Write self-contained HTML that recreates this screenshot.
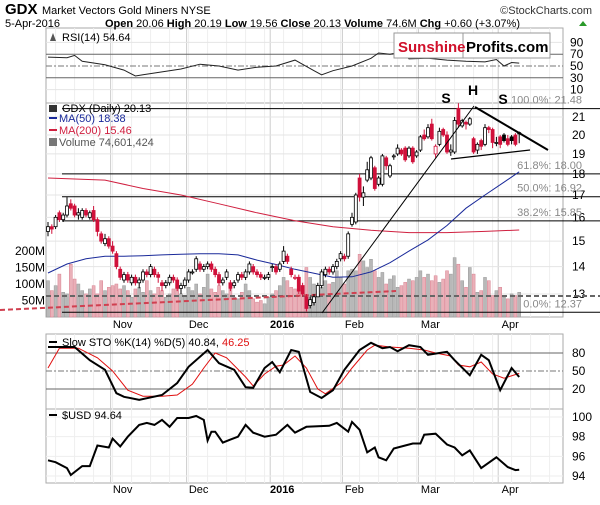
<!DOCTYPE html>
<html><head><meta charset="utf-8"><style>
body{margin:0;background:#fff;width:600px;height:500px;overflow:hidden;font-family:"Liberation Sans",sans-serif}
svg text{font-family:"Liberation Sans",sans-serif}
</style></head><body>
<svg id="c" width="600" height="500" xmlns="http://www.w3.org/2000/svg">
<g id="grid"></g>
<g id="hdr">
<text x="5" y="14" font-size="15" font-weight="bold">GDX</text>
<text x="42" y="14" font-size="11">Market Vectors Gold Miners  NYSE</text>
<text x="592" y="14" font-size="11" text-anchor="end" fill="#333">©StockCharts.com</text>
<text x="5" y="27" font-size="11">5-Apr-2016</text>
<text x="105" y="27" font-size="11"><tspan font-weight="bold">Open</tspan> 20.06 <tspan font-weight="bold">High</tspan> 20.19 <tspan font-weight="bold">Low</tspan> 19.56 <tspan font-weight="bold">Close</tspan> 20.13 <tspan font-weight="bold">Volume</tspan> 74.6M <tspan font-weight="bold">Chg</tspan> +0.60 (+3.07%)</text>
<polygon points="579,26 583,21 587,26" fill="#2a9a2a"/>
</g>
<g id="plot"></g>
</svg>
<script>
// ---------- data ----------
const opens=[15.4,15.6,15.6,16.2,15.9,16.1,16.6,16.5,16.1,16.0,16.3,16.0,16.3,15.9,15.3,14.9,15.1,
14.8,14.5,13.9,13.5,13.7,13.4,13.6,13.4,13.5,13.8,13.7,13.9,13.7,13.4,13.3,13.4,13.6,13.5,13.2,13.3,
13.5,13.8,13.9,14.1,13.9,14.0,14.1,13.9,13.7,13.4,13.6,13.4,13.3,13.5,13.7,13.6,13.8,14.0,13.8,13.7,13.6,13.6,
14.0,14.0,13.9,14.2,14.4,13.9,13.6,13.6,13.3,12.9,12.6,12.7,12.9,13.3,13.7,13.9,13.8,14.0,14.3,
14.4,14.4,15.7,15.8,17.8,16.9,17.7,17.8,18.3,17.5,17.5,18.8,17.9,18.9,19.0,19.2,19.3,18.9,19.3,18.9,
19.2,20.0,19.9,20.6,19.0,19.5,20.3,20.0,19.1,19.1,21.5,20.5,20.7,20.6,19.8,19.2,19.7,19.5,20.4,20.3,19.6,
19.9,20.0,19.8,19.9,20.0,20.06];
const closes=[15.6,15.5,16.0,15.9,16.1,16.5,16.4,16.1,16.2,16.3,16.1,16.2,15.9,15.4,15.0,15.1,14.8,
14.6,14.0,13.6,13.7,13.5,13.6,13.4,13.5,13.8,13.7,14.0,13.7,13.6,13.3,13.4,13.6,13.5,13.2,13.3,13.5,
13.8,13.8,14.3,13.9,14.0,14.1,13.9,13.7,13.4,13.5,13.8,13.2,13.4,13.7,13.6,13.8,14.1,13.8,13.7,13.6,13.6,13.7,
14.0,13.8,14.1,14.6,14.2,13.7,13.6,13.1,13.0,12.5,12.8,12.9,13.3,13.8,13.9,13.8,14.0,14.2,14.5,
14.3,15.3,16.0,17.0,16.9,17.1,18.2,18.8,17.3,17.8,18.9,18.4,18.4,18.9,19.3,19.0,18.7,19.3,18.6,19.1,
19.9,19.8,20.4,19.8,19.4,20.2,20.0,19.1,19.2,20.8,20.6,20.8,20.6,20.9,19.1,19.5,19.4,20.4,20.3,19.6,19.6,
19.5,19.7,19.5,19.7,19.5,20.13];
const highs=[15.8,15.7,16.1,16.3,16.2,16.9,16.8,16.6,16.4,16.4,16.4,16.3,16.5,16.0,15.4,15.3,15.2,
15.0,14.6,14.0,13.8,13.8,13.7,13.7,13.6,13.9,13.9,14.1,14.0,13.8,13.5,13.5,13.7,13.7,13.6,13.4,13.6,
13.9,13.9,14.4,14.2,14.1,14.2,14.2,14.0,13.8,13.6,13.9,13.5,13.5,13.8,13.8,13.9,14.2,14.1,13.9,13.8,13.7,13.8,
14.1,14.1,14.2,14.8,14.5,14.0,13.7,13.7,13.4,13.0,12.9,13.0,13.4,13.9,14.0,14.0,14.1,14.3,14.6,
14.5,15.4,16.2,17.1,18.0,17.4,18.6,18.9,18.4,17.9,19.0,18.9,18.5,19.0,19.5,19.3,19.4,19.4,19.4,19.2,
20.0,20.3,20.6,20.9,19.5,20.4,20.4,20.2,19.5,21.0,21.8,20.9,20.8,21.0,19.9,19.6,19.8,20.6,20.5,20.4,19.9,
20.0,20.1,20.0,20.0,20.1,20.19];
const lows=[15.2,15.3,15.5,15.8,15.8,16.0,16.3,16.0,15.9,15.9,16.0,15.9,15.8,15.2,14.9,14.8,14.7,
14.5,13.9,13.5,13.4,13.4,13.3,13.3,13.2,13.4,13.6,13.6,13.6,13.4,13.1,13.2,13.3,13.4,13.1,13.0,13.2,
13.4,13.7,13.8,13.8,13.8,13.9,13.8,13.6,13.3,13.3,13.5,13.1,13.2,13.4,13.5,13.5,13.7,13.7,13.6,13.5,13.5,13.5,
13.8,13.7,13.8,14.1,14.1,13.6,13.5,13.0,12.9,12.4,12.5,12.6,12.9,13.2,13.6,13.7,13.7,13.9,14.2,
14.2,14.3,15.6,15.7,16.7,16.5,17.6,17.7,17.2,17.4,17.4,18.2,17.8,18.7,18.9,18.9,18.6,18.8,18.5,18.8,
19.1,19.7,19.8,19.7,18.8,19.4,19.9,19.0,18.9,19.0,20.4,20.4,20.3,20.5,19.0,19.0,19.2,19.4,20.1,19.3,19.4,
19.3,19.6,19.4,19.5,19.4,19.56];
const volumes=[110,80,95,130,75,70,160,115,100,80,70,85,95,70,110,80,90,
95,100,85,95,80,60,85,90,75,110,80,70,90,80,60,70,85,100,70,65,
90,80,100,70,90,130,85,75,95,80,70,85,60,55,75,100,80,55,45,50,40,60,
70,80,95,120,110,90,85,90,75,150,120,100,95,90,110,100,105,140,120,
100,140,145,140,190,170,150,175,140,120,135,100,115,125,90,95,105,115,110,120,
140,120,130,110,125,105,115,140,130,180,160,110,90,150,130,75,80,120,110,65,80,
90,60,55,70,65,75];
const ma50Idx=[0,5,10,15,20,25,30,35,40,45,50,55,60,65,70,75,80,85,90,95,100,105,110,115,120,124];
const ma50Val=[13.76,14.1,14.3,14.4,14.4,14.42,14.45,14.48,14.5,14.5,14.45,14.25,14.08,13.9,13.75,13.6,13.62,13.8,14.15,14.6,15.05,15.65,16.4,17.0,17.6,18.1];
const ma200Idx=[0,15,25,35,45,55,65,75,85,95,105,115,124];
const ma200Val=[17.8,17.7,17.3,17.0,16.6,16.2,15.85,15.6,15.45,15.35,15.35,15.4,15.46];
const rsiIdx=[0,5,7,9,15,20,23,25,30,35,40,45,50,55,60,65,70,72,75,80,85,87,90,93,95,100,105,110,115,118,120,122,124];
const rsiVal=[65,64,68,58,52,43,33,35,40,45,53,50,43,48,50,60,42,35,42,50,63,72,70,74,62,63,60,58,57,61,50,56,55];
const kIdx=[0,7,11,15,18,20,24,30,34,37,42,45,49,52,54,57,59,61,64,66,69,72,75,78,82,85,88,90,92,95,98,100,105,107,111,114,116,119,122,124];
const kVal=[90,90,68,52,13,7,2,10,30,57,85,63,52,23,22,55,65,48,85,82,15,5,18,52,85,97,88,90,83,93,90,77,82,68,43,77,68,18,55,40];
const dIdx=[0,3,8,13,17,21,25,30,34,38,41,44,47,52,54,57,60,62,65,68,71,73,77,80,84,86,90,95,99,102,106,108,111,114,117,120,124];
const dVal=[55,88,88,72,50,18,8,8,10,28,55,80,72,40,25,45,58,60,75,55,20,12,30,55,85,93,90,88,85,80,75,60,57,65,45,38,46];
const usdIdx=[0,2,5,6,9,11,13,16,17,19,21,24,26,28,30,32,34,37,39,41,42,43,44,46,48,50,52,54,57,60,63,65,68,74,76,79,80,82,84,86,87,89,91,94,96,98,99,102,105,107,109,111,114,118,121,123,124];
const usdVal=[95.6,95.4,94.8,94.1,95.0,95.0,97.1,96.9,97.8,97.0,98.0,99.2,99.4,99.2,99.7,99.0,99.9,99.9,100.1,99.7,97.6,98.5,98.5,97.4,97.7,98.0,99.2,98.4,98.0,98.2,99.2,98.4,99.0,99.1,99.4,98.5,99.5,98.7,96.4,96.9,95.9,95.6,96.8,97.1,97.3,97.3,98.2,98.3,97.2,96.9,96.1,96.6,94.8,95.9,94.9,94.6,94.64];
const priceTicks=[21,20,19,18,17,16,15,14,13];
const rsiTicks=[90,70,50,30,10];
const stoTicks=[80,50,20];
const usdTicks=[100,98,96,94];
const volTicks=[200,150,100,50];
const fibLevels=[21.48,18.00,16.92,15.85,12.37];
const fibLabels=["100.0%: 21.48","61.8%: 18.00","50.0%: 16.92","38.2%: 15.85","0.0%: 12.37"];
const monthLabels=["Nov","Dec","2016","Feb","Mar","Apr"];
const monthIdx=[17,37,59,78,98,119];

// ---------- scales ----------
const L=46,R=563;
const xi=i=>48+i*3.8;
const py=p=>117+(Math.log(21)-Math.log(p))*369;
const vy=v=>317-v*0.33;
const ry=v=>95.5-v*0.59;
const sy=v=>401-v*0.6;
const uy=v=>417+(100-v)*9.83;
const NS="http://www.w3.org/2000/svg";
const plot=document.getElementById('plot'), grid=document.getElementById('grid');
function el(tag,attrs,parent){const e=document.createElementNS(NS,tag);for(const k in attrs)e.setAttribute(k,attrs[k]);(parent||plot).appendChild(e);return e;}
function txt(x,y,s,attrs,parent){const t=el('text',Object.assign({x:x,y:y,'font-size':11},attrs||{}),parent);t.textContent=s;return t;}
function poly(idx,val,f){return idx.map((i,k)=>xi(i).toFixed(1)+','+f(val[k]).toFixed(1)).join(' ');}

// panels
const panels=[['rsi-panel',28,103],['price-panel',103,317],['sto-panel',334,409],['usd-panel',409,483]];
panels.forEach(p=>{
  const r=el('rect',{x:L,y:p[1],width:R-L,height:p[2]-p[1],fill:'none',stroke:'#aaa'},grid);
  
  
});
// vertical grid
for(let i=2;i<125+12;i+=5){
  const x=xi(i);
  if(x>R)break;
  [[28,317],[334,483]].forEach(s=>{const ln=el('line',{x1:x,x2:x,y1:s[0],y2:s[1],stroke:'#eee'},grid);
  });
}
monthIdx.forEach((m,k)=>{
  const x=xi(m)-2;
  [[28,317],[334,483]].forEach(s=>{const ln=el('line',{x1:x,x2:x,y1:s[0],y2:s[1],stroke:'#ccc'},grid);
  });
  [328,493].forEach(y=>{const t=txt(x+12,y,monthLabels[k],{'text-anchor':'middle','font-weight':monthLabels[k]=='2016'?'bold':'normal'});
  });
});
// RSI
rsiTicks.forEach(v=>{
  const y=ry(v);
  const ln=el('line',{x1:L,x2:R,y1:y,y2:y,stroke:(v==70||v==30)?'#666':(v==50?'#777':'#e4e4e4'),'stroke-dasharray':v==50?'6,2,2,2':'none'});
  
  const t=txt(570,y+4,String(v),{'font-size':12});
  
});
const rsiLine=el('polyline',{points:poly(rsiIdx,rsiVal,ry),fill:'none',stroke:'#222','stroke-width':1});

const rl=txt(62,41,'RSI(14) 54.64',{'font-size':11,'font-family':'Liberation Mono'});

el('polygon',{points:'50,41 53,33 56,41',fill:'#555'});
// logo
const logo=el('g',{});

el('rect',{x:394,y:33,width:156,height:25,fill:'#fff',stroke:'#999'},logo);
el('line',{x1:463,x2:463,y1:33,y2:58,stroke:'#999'},logo);
txt(398,52,'Sunshine',{'font-size':15,'font-weight':'bold',fill:'#d0102a'},logo);
txt(466,52,'Profits.com',{'font-size':15,'font-weight':'bold',fill:'#000'},logo);

// price grid
priceTicks.forEach(p=>{
  const y=py(p);
  const ln=el('line',{x1:L,x2:R,y1:y,y2:y,stroke:'#e4e4e4'});
  
  const t=txt(572,y+4,String(p),{'font-size':12});
  
});
volTicks.forEach(v=>{
  const t=txt(45,vy(v)+4,v+'M',{'font-size':12,'text-anchor':'end'});
  
});
// volume bars
volumes.forEach((v,i)=>{
  const down=i>0&&closes[i]<closes[i-1];
  const b=el('rect',{x:xi(i)-1.5,y:vy(v),width:3,height:317-vy(v),fill:down?'#eab0b8':'#b8b8b8',stroke:down?'#d88090':'#999','stroke-width':0.5});
  
  
});
const vavg=el('line',{x1:L,x2:600,y1:296,y2:296,stroke:'#666','stroke-width':2,'stroke-dasharray':'5,3'});

const rdash=el('line',{x1:0,x2:396,y1:310,y2:291,stroke:'#d04050','stroke-width':2,'stroke-dasharray':'5,3'});

// fib lines
fibLevels.forEach((f,k)=>{
  const y=py(f);
  const ln=el('line',{x1:62,x2:600,y1:y,y2:y,stroke:'#000','stroke-width':1});
  
  const t=txt(582,y-5,fibLabels[k],{'font-size':11,'text-anchor':'end',fill:'#888'});
  
});
// MAs
const m200=el('polyline',{points:poly(ma200Idx,ma200Val,py),fill:'none',stroke:'#d02040','stroke-width':1});

const m50=el('polyline',{points:poly(ma50Idx,ma50Val,py),fill:'none',stroke:'#1a2a9a','stroke-width':1});

// candles
closes.forEach((c,i)=>{
  const o=opens[i],x=xi(i);
  const col=(i>0&&c<closes[i-1])?'#d0103a':'#000';
  const w=el('line',{x1:x,x2:x,y1:py(highs[i]),y2:py(lows[i]),stroke:col,'stroke-width':1});
  
  const top=py(Math.max(o,c)),bot=py(Math.min(o,c));
  const b=el('rect',{x:x-1.5,y:top,width:3,height:Math.max(1,bot-top),fill:c<o?col:'#fff',stroke:col,'stroke-width':0.8});
  
});
// annotations
const t1=el('line',{x1:322,y1:313,x2:474,y2:106,stroke:'#000','stroke-width':1});

const t2=el('line',{x1:475,y1:107,x2:548,y2:150,stroke:'#000','stroke-width':2});

const t3=el('line',{x1:451,y1:159,x2:530,y2:150,stroke:'#000','stroke-width':1.2});

[['S',446,103],['H',473,95],['S',503,104]].forEach(a=>{
  const t=txt(a[1],a[2],a[0],{'font-size':14,'font-weight':'bold','text-anchor':'middle','font-family':'Liberation Serif'});
  
});
// legend
const lg=el('g',{});

txt(62,112,'GDX (Daily) 20.13',{'font-size':11},lg);
el('rect',{x:49,y:105,width:8,height:7,fill:'#333'},lg);
el('rect',{x:49,y:117,width:8,height:2,fill:'#1a2a9a'},lg);
txt(59,122,'MA(50) 18.38',{'font-size':11,fill:'#1a2a9a'},lg);
el('rect',{x:49,y:129,width:8,height:2,fill:'#d02040'},lg);
txt(59,134,'MA(200) 15.46',{'font-size':11,fill:'#d02040'},lg);
el('rect',{x:49,y:138,width:8,height:8,fill:'#777'},lg);
txt(59,146,'Volume 74,601,424',{'font-size':11,fill:'#555'},lg);

// STO
stoTicks.forEach(v=>{
  const y=sy(v);
  const ln=el('line',{x1:L,x2:R,y1:y,y2:y,stroke:v==50?'#777':'#666','stroke-dasharray':v==50?'6,2,2,2':'none'});
  
  const t=txt(572,y+4,String(v),{'font-size':12});
  
});
const dl=el('polyline',{points:poly(dIdx,dVal,sy),fill:'none',stroke:'#e01010','stroke-width':1});

const kl=el('polyline',{points:poly(kIdx,kVal,sy),fill:'none',stroke:'#000','stroke-width':2});

const sl=el('g',{});

el('rect',{x:49,y:341,width:8,height:2,fill:'#000'},sl);
const stt=txt(62,346,'Slow STO %K(14) %D(5) 40.84, ',{'font-size':11},sl);
const red=document.createElementNS(NS,'tspan');red.setAttribute('fill','#e01010');red.textContent='46.25';stt.appendChild(red);
// USD
usdTicks.forEach(v=>{
  const y=uy(v);
  const ln=el('line',{x1:L,x2:R,y1:y,y2:y,stroke:'#eee'});
  
  const t=txt(572,y+4,String(v),{'font-size':12});
  
});
const ul=el('polyline',{points:poly(usdIdx,usdVal,uy),fill:'none',stroke:'#000','stroke-width':2});

const ug=el('g',{});

el('rect',{x:49,y:414,width:8,height:2,fill:'#000'},ug);
txt(62,419,'$USD 94.64',{'font-size':11},ug);
</script>
</body></html>
